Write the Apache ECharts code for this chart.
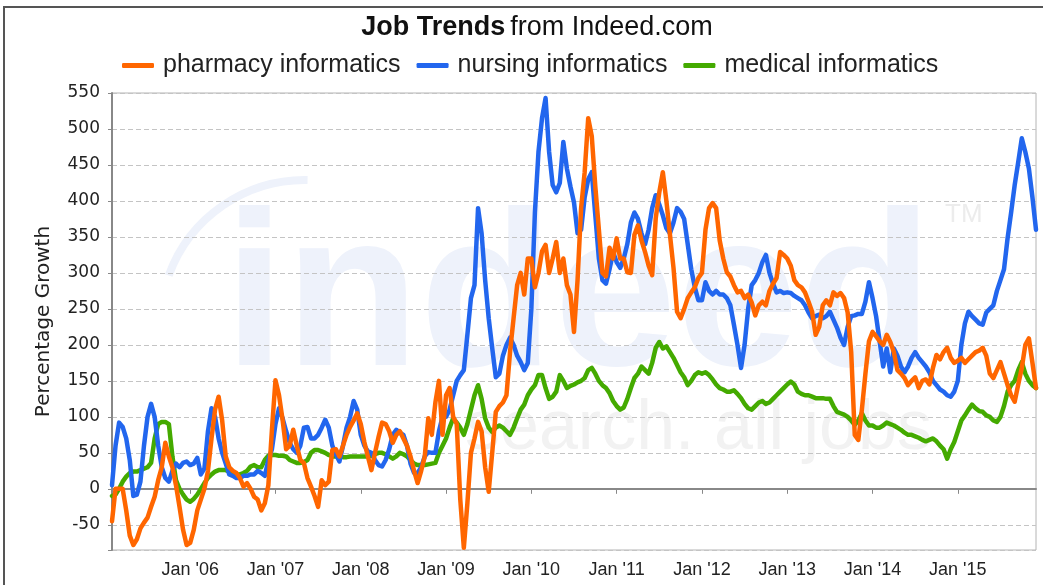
<!DOCTYPE html>
<html>
<head>
<meta charset="utf-8">
<script src="https://cdn.jsdelivr.net/npm/echarts@6/dist/echarts.min.js"></script>
<style>
html,body{margin:0;padding:0;background:#fff;}
#c{width:1043px;height:585px;}
</style>
</head>
<body>
<div id="c"></div>
<script>
// Semi-monthly categories, 2005-02-01 .. 2015-12-01
const categories = [];
for (let y = 2005; y <= 2015; y++) {
  for (let m = 1; m <= 12; m++) {
    for (const d of ['01', '16']) {
      if (y === 2005 && m < 2) continue;
      if (y === 2015 && m === 12 && d === '16') continue;
      categories.push(y + '-' + String(m).padStart(2, '0') + '-' + d);
    }
  }
}

const seriesNames = ['pharmacy informatics', 'nursing informatics', 'medical informatics'];

const pharmacy = [
  -45, 0, 0, 0, -30, -65, -78, -70, -55, -47, -40, -25, -11, 12, 30, 64, 45, 30, 5, -25, -57, -78,
  -75, -57, -30, -15, 0, 25, 70, 110, 128, 95, 45, 30, 25, 22, 15, 3, 8, 0, -11, -15, -30, -20, 5, 82,
  151, 130, 96, 55, 60, 82, 60, 40, 36, 15, 3, -10, -25, 12, 5, 10, 54, 55, 45, 60, 75, 86, 95, 105,
  90, 65, 45, 26, 50, 72, 92, 90, 80, 64, 75, 80, 70, 60, 45, 25, 8, 25, 45, 98, 75, 120, 150, 75,
  130, 140, 100, 90, -15, -82, -20, 50, 70, 93, 80, 30, -4, 51, 107, 115, 120, 130, 190, 237, 283, 300, 270, 320,
  320, 280, 300, 330, 339, 300, 320, 343, 300, 320, 283, 270, 218, 290, 390, 440, 515, 490, 420, 360, 300, 295, 335, 320,
  348, 320, 320, 301, 300, 353, 366, 345, 329, 310, 297, 376, 412, 440, 400, 353, 307, 246, 237, 250, 265, 273, 280, 293,
  300, 360, 390, 397, 390, 345, 320, 301, 295, 283, 273, 275, 265, 270, 259, 241, 255, 260, 255, 275, 285, 293, 329, 325,
  320, 310, 290, 283, 280, 273, 260, 246, 214, 225, 255, 262, 255, 273, 268, 272, 265, 245, 190, 75, 68, 110, 160, 205,
  218, 212, 205, 200, 214, 204, 190, 165, 160, 154, 144, 150, 155, 140, 150, 152, 145, 168, 186, 180, 190, 196, 182, 175,
  178, 182, 175, 180, 185, 190, 192, 196, 185, 160, 154, 165, 176, 160, 144, 130, 121, 145, 168, 200, 209, 175, 140
];

const nursing = [
  5, 60, 92, 86, 70, 40, -10, -8, 10, 60, 100, 118, 100, 60, 30, 15, 10, 25, 35, 30, 36, 38,
  33, 35, 43, 20, 28, 80, 112, 100, 70, 50, 35, 20, 18, 15, 15, 18, 18, 20, 20, 25, 22, 18, 40, 55,
  90, 112, 98, 80, 64, 55, 50, 60, 85, 86, 70, 70, 75, 85, 96, 85, 60, 48, 38, 60, 85, 100, 122, 110,
  75, 60, 52, 50, 40, 33, 31, 40, 55, 75, 82, 78, 75, 60, 35, 22, 22, 30, 45, 51, 50, 50, 80, 100,
  100, 110, 130, 150, 158, 165, 214, 265, 283, 390, 355, 290, 237, 195, 155, 160, 185, 200, 210, 200, 185, 176, 165, 175,
  250, 384, 468, 515, 543, 468, 422, 412, 425, 482, 445, 420, 398, 355, 360, 405, 430, 440, 380, 320, 290, 285, 305, 329,
  315, 307, 320, 340, 370, 384, 375, 355, 340, 360, 390, 408, 395, 380, 362, 355, 370, 390, 385, 375, 340, 305, 280, 262,
  262, 287, 275, 270, 275, 270, 270, 265, 255, 228, 200, 168, 200, 250, 283, 290, 300, 315, 325, 300, 285, 273, 275, 272,
  273, 272, 268, 265, 262, 255, 245, 237, 240, 242, 237, 240, 246, 235, 224, 210, 200, 225, 240, 241, 243, 243, 260, 287,
  265, 240, 205, 170, 195, 162, 195, 185, 170, 162, 170, 182, 190, 182, 176, 170, 162, 150, 144, 138, 135, 130, 128, 135,
  150, 200, 230, 246, 240, 235, 230, 228, 245, 250, 255, 275, 290, 305, 348, 384, 422, 454, 487, 468, 445, 405, 360
];

const medical = [
  -10, -8, 0, 10, 17, 22, 24, 24, 26, 28, 30, 36, 70, 90, 93, 93, 90, 45, 12, 0, -8, -15,
  -18, -14, -8, 0, 8, 15, 20, 24, 26, 26, 26, 24, 22, 20, 20, 22, 25, 31, 33, 30, 30, 40, 46, 47,
  47, 46, 46, 45, 40, 38, 36, 36, 37, 40, 50, 54, 54, 52, 50, 47, 45, 45, 45, 44, 44, 45, 45, 45,
  45, 45, 45, 46, 48, 50, 50, 48, 45, 42, 45, 50, 48, 45, 40, 35, 33, 33, 33, 34, 35, 36, 50, 60,
  70, 85, 98, 92, 85, 75, 90, 110, 130, 144, 125, 98, 85, 79, 85, 88, 85, 80, 75, 85, 98, 110, 117, 130,
  138, 144, 158, 158, 140, 125, 128, 135, 158, 150, 140, 143, 145, 148, 150, 154, 165, 168, 160, 150, 144, 140, 133, 122,
  115, 110, 113, 125, 140, 154, 160, 170, 165, 160, 175, 196, 204, 195, 198, 190, 182, 172, 162, 155, 144, 150, 158, 162,
  160, 162, 158, 152, 145, 140, 138, 135, 135, 137, 132, 126, 118, 112, 110, 115, 120, 122, 118, 120, 125, 130, 135, 140,
  145, 149, 145, 135, 132, 130, 130, 128, 126, 126, 126, 125, 125, 115, 107, 105, 103, 100, 95, 89, 95, 105, 95, 88,
  88, 85, 85, 88, 92, 90, 88, 85, 82, 78, 75, 75, 73, 71, 68, 66, 68, 70, 66, 60, 55, 42, 55, 65,
  80, 95, 102, 110, 117, 112, 108, 107, 102, 100, 95, 93, 100, 115, 135, 144, 150, 165, 176, 160, 150, 144, 140
];

const colors = { pharmacy: '#ff6600', nursing: '#2266ee', medical: '#44aa00' };

const isJan = function (idx, val) { return /-01-01$/.test(val); };

const chart = echarts.init(document.getElementById('c'), null, { renderer: 'canvas' });

function lineSeries(name, data, color, z) {
  return {
    name: name, type: 'line', data: data, z: z,
    showSymbol: false, symbol: 'none', smooth: false,
    lineStyle: { color: color, width: 4.5, cap: 'round', join: 'round' },
    itemStyle: { color: color },
    emphasis: { disabled: true }
  };
}

chart.setOption({
  animation: false,
  backgroundColor: '#ffffff',
  title: {
    text: '{b|Job Trends} {r|from Indeed.com}',
    left: 532, top: 9, textAlign: 'center',
    textStyle: {
      rich: {
        b: { fontFamily: 'Liberation Sans', fontSize: 27, fontWeight: 'bold', color: '#111' },
        r: { fontFamily: 'Liberation Sans', fontSize: 27, fontWeight: 'normal', color: '#111' }
      }
    }
  },
  legend: {
    data: seriesNames,
    left: 117, top: 48,
    itemWidth: 32, itemHeight: 5, itemGap: 16,
    icon: 'roundRect',
    textStyle: { fontFamily: 'Liberation Sans', fontSize: 25, color: '#222', padding: [0, 0, 0, 4] }
  },
  grid: { left: 112, right: 7, top: 93, bottom: 35, show: true, borderColor: '#b4b4b4', borderWidth: 1 },
  xAxis: {
    type: 'category', data: categories, boundaryGap: false,
    axisLine: { lineStyle: { color: '#888', width: 2 } },
    axisTick: { interval: isJan, length: 5, lineStyle: { color: '#888' } },
    axisLabel: {
      interval: isJan,
      formatter: function (v) { return "Jan '" + v.slice(2, 4); },
      fontFamily: "'Liberation Sans Narrow', 'Liberation Sans'", fontSize: 18, color: '#222', margin: 11
    },
    splitLine: { show: false }
  },
  yAxis: {
    type: 'value', min: -85, max: 550, splitNumber: 12, minInterval: 50, maxInterval: 50,
    name: 'Percentage Growth', nameLocation: 'middle', nameGap: 58,
    nameTextStyle: { fontFamily: 'DejaVu Sans', fontSize: 20, color: '#222' },
    axisLine: { show: true, lineStyle: { color: '#888', width: 2 } },
    axisTick: { show: true, length: 4, lineStyle: { color: '#888' } },
    axisLabel: {
      formatter: function (v) { return v % 50 === 0 ? String(v) : ''; },
      fontFamily: 'DejaVu Sans', fontSize: 17, color: '#222', margin: 12
    },
    splitLine: { lineStyle: { type: [5, 3], color: '#c4c4c4' } }
  },
  graphic: [
    { type: 'arc', z: -10, silent: true,
      shape: { cx: 305, cy: 325, r: 145, startAngle: 3.49, endAngle: 4.73, clockwise: true },
      style: { stroke: '#eef2fb', lineWidth: 8, fill: null } },
    { type: 'text', z: -10, silent: true, x: 224, y: 304,
      style: { text: 'indeed', font: 'bold 220px "Liberation Sans"', fill: '#eef2fb', textAlign: 'left', textVerticalAlign: 'middle' } },
    { type: 'text', z: -10, silent: true, x: 945, y: 215,
      style: { text: 'TM', font: '26px "Liberation Sans"', fill: '#ececec', textAlign: 'left', textVerticalAlign: 'middle' } },
    { type: 'text', z: -10, silent: true, x: 465, y: 430,
      style: { text: 'search. all jobs', font: '70px "Liberation Sans"', fill: '#f2f2f2', textAlign: 'left', textVerticalAlign: 'middle' } },
    { type: 'rect', z: 100, silent: true,
      shape: { x: 4, y: 7, width: 1100, height: 700 },
      style: { stroke: '#555', lineWidth: 2, fill: null } }
  ],
  series: [
    lineSeries(seriesNames[2], medical, colors.medical, 2),
    lineSeries(seriesNames[1], nursing, colors.nursing, 3),
    lineSeries(seriesNames[0], pharmacy, colors.pharmacy, 4)
  ]
});
</script>
</body>
</html>
